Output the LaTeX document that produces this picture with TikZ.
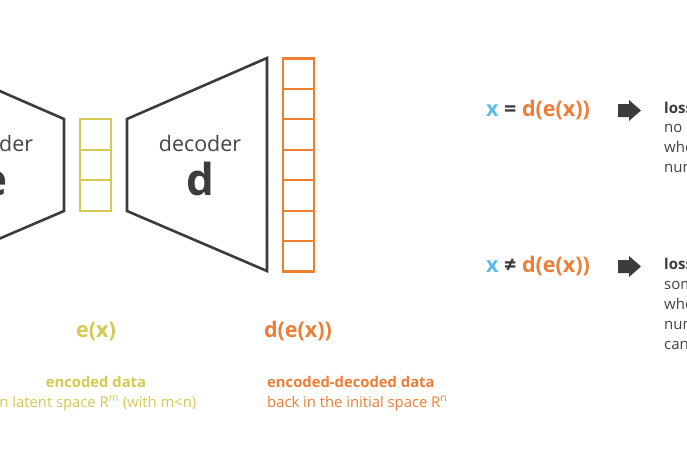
\documentclass[tikz,border=0pt]{standalone}
\usepackage{fontspec}
\setmainfont{Open Sans}
\definecolor{ink}{HTML}{3C3C3C}
\definecolor{txt}{HTML}{444444}
\definecolor{yel}{HTML}{D4CA52}
\definecolor{ora}{HTML}{EE7D36}
\definecolor{blu}{HTML}{5BBCE9}
\begin{document}
\begin{tikzpicture}[x=1pt,y=-1pt,
  shape line/.style={draw=ink,line width=2.6pt,line join=miter},
  cellY/.style={draw=yel,line width=2.2pt},
  cellO/.style={draw=ora,line width=2.2pt},
  lbl/.style={inner sep=0pt,anchor=base,font=\fontsize{21.4}{24}\selectfont,text=txt},
  big/.style={inner sep=0pt,anchor=base,font=\fontsize{44}{48}\selectfont\bfseries,text=ink},
  fn/.style={inner sep=0pt,anchor=base,font=\fontsize{21.5}{24}\selectfont\bfseries},
  captxt/.style={inner sep=0pt,anchor=base,font=\fontsize{14.8}{17}\selectfont},
  capbold/.style={inner sep=0pt,anchor=base,font=\fontsize{14.8}{17}\selectfont\bfseries},
  desc/.style={inner sep=0pt,anchor=base west,font=\fontsize{15}{17}\selectfont,text=txt},
  descbold/.style={inner sep=0pt,anchor=base west,font=\fontsize{15}{17}\selectfont\bfseries,text=ink},
  blockarrow/.style={fill=ink,draw=none}]
\useasboundingbox (0,0) rectangle (687,455);
\clip (0,0) rectangle (687,455);
\fill[white] (0,0) rectangle (687,455);
% encoder (cut off at left)
\draw[shape line] (-76,58) -- (64,119) -- (64,211) -- (-76,271);
\node[lbl] (enc) at (-8,151) {encoder};
\node[big] (encE) at (-6,195) {e};
% latent cells
\foreach \i in {0,1,2} {
  \draw[cellY] (80,{119+\i*30.67}) rectangle (111,{119+(\i+1)*30.67});
}
% decoder
\draw[shape line] (127,119) -- (267,58) -- (267,271) -- (127,211) -- cycle;
\node[lbl] (dec) at (200,151) {decoder};
\node[big] (decD) at (200,195) {d};
% output cells
\foreach \i in {0,...,6} {
  \draw[cellO] (283,{58.5+\i*30.43}) rectangle (314,{58.5+(\i+1)*30.43});
}
% labels under
\node[fn,text=yel] (ex) at (96,337) {e(x)};
\node[fn,text=ora] (dex) at (298,337) {d(e(x))};
\node[capbold,text=yel] (encdata) at (96,387) {encoded data};
\node[captxt,text=yel] (latent) at (96,407) {in latent space R\textsuperscript{m} (with m<n)};
\node[capbold,anchor=base west,text=ora] (edd) at (267,387) {encoded-decoded data};
\node[captxt,anchor=base west,text=ora] (back) at (267,407) {back in the initial space R\textsuperscript{n}};
% right side
\node[fn,anchor=base west] (eq1) at (486,116) {\textcolor{blu}{x} \textcolor{ink}{=} \textcolor{ora}{d(e(x))}};
\node[fn,anchor=base west] (eq2) at (486,272) {\textcolor{blu}{x} \textcolor{ink}{≠} \textcolor{ora}{d(e(x))}};
\fill[blockarrow] (618,104) -- (629,104) -- (629,100) -- (641,110.5) -- (629,121) -- (629,117) -- (618,117) -- cycle;
\fill[blockarrow] (618,260) -- (629,260) -- (629,256) -- (641,266.5) -- (629,277) -- (629,273) -- (618,273) -- cycle;
\node[descbold] (l1) at (664,113) {lossless encoding};
\node[desc] (l2) at (664,132) {no information is lost};
\node[desc] (l3) at (664,152) {when reducing the};
\node[desc] (l4) at (664,172) {number of dimensions};
\node[descbold] (m1) at (664,269) {lossy encoding};
\node[desc] (m2) at (664,289) {some information is lost};
\node[desc] (m3) at (664,309) {when reducing the};
\node[desc] (m4) at (664,329) {number of dimensions and};
\node[desc] (m5) at (664,349) {can't be recovered later};
\end{tikzpicture}
\end{document}
